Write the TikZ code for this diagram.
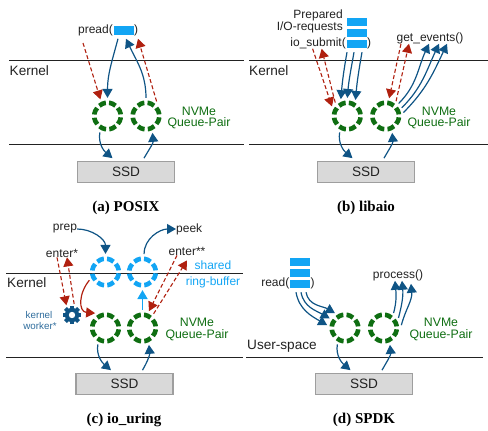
\documentclass[tikz,border=0pt]{standalone}
\usepackage{fontspec}
\setmainfont{Liberation Sans}
\newfontfamily\capfont{Liberation Serif}
\usetikzlibrary{arrows.meta}
\definecolor{qgreen}{HTML}{0F6E12}
\definecolor{qblue}{HTML}{0F5485}
\definecolor{qred}{HTML}{B0200F}
\definecolor{qsky}{HTML}{12A5F4}
\definecolor{qtext}{HTML}{222222}
\definecolor{qworker}{HTML}{2E6C9C}
\newcommand{\fs}[1]{\fontsize{#1}{#1}\selectfont}
\tikzset{
  x=1pt,y=-1pt,
  ringbase/.style={circle,draw,inner sep=0pt,minimum size=26.5,outer sep=4.8pt,line width=4.6pt,dash pattern=on 7.2pt off 3.2pt,dash phase=8.8pt},
  gring/.style={ringbase,draw=qgreen},
  bring/.style={ringbase,draw=qsky},
  bufbox/.style={rectangle,fill=qsky,draw=white,line width=.3pt,inner sep=0pt,minimum width=21,minimum height=9.5,outer ysep=4pt,outer xsep=0pt},
  ssdbox/.style={rectangle,draw=black!38,fill=black!15,line width=1.2pt,minimum width=97,minimum height=20.5,inner sep=0pt,font=\fs{13.6},text=qtext},
  lab/.style={inner sep=0pt,text=qtext,font=\fs{12}},
  sidelab/.style={inner sep=0pt,text=qtext,font=\fs{13.6}},
  qplab/.style={inner sep=0pt,text=qgreen,font=\fs{12.3}},
  skylab/.style={inner sep=0pt,text=qsky,font=\fs{12}},
  wlab/.style={inner sep=0pt,text=qworker,font=\fs{9.8}},
  caplab/.style={inner sep=0pt,text=black,font=\capfont\bfseries\fs{15}},
  sep/.style={draw=qtext,line width=1pt},
  blueline/.style={draw=qblue,line width=1.2pt,-{Triangle[length=9pt,width=10pt]}},
  redline/.style={draw=qred,line width=1.1pt,dash pattern=on 4pt off 2.4pt,-{Triangle[length=9pt,width=10pt,fill=qred]}},
  redsolid/.style={draw=qred,line width=1.2pt,-{Triangle[length=9pt,width=10pt,fill=qred]}},
  skyline/.style={draw=qsky,line width=1.6pt,-{Triangle[length=9pt,width=10pt,fill=qsky]}},
}
% prefix, ring x1, ring x2, ring y, ssd x, ssd y, nvme x, nvme y1, nvme y2
\newcommand{\queuepair}[9]{%
  \node[gring] (#1r1) at (#2,#4) {};
  \node[gring] (#1r2) at (#3,#4) {};
  \node[ssdbox] (#1ssd) at (#5,#6) {SSD};
  \node[qplab] (#1nv) at (#7,#8) {NVMe};
  \node[qplab] (#1qp) at (#7,#9) {Queue-Pair};
  \draw[blueline] (#1r1.-115) to[out=-100,in=140] ([xshift=-13.5pt,yshift=3pt]#1ssd.north);
  \draw[blueline] ([xshift=18pt,yshift=3pt]#1ssd.north) to[out=60,in=-85] (#1r2.-69);
}
\begin{document}
\begin{tikzpicture}
\useasboundingbox (0,0) rectangle (488,431);
% ---------- (a)
\coordinate (al1) at (9,60); \coordinate (al2) at (244,60);
\coordinate (al3) at (9,144); \coordinate (al4) at (244,144);
\draw[sep] (al1) -- (al2); \draw[sep] (al3) -- (al4);
\node[sidelab,anchor=west] (akern) at (9.5,71) {Kernel};
\queuepair{a}{107.5}{146}{116}{126}{172}{199}{111}{123}
\node[bufbox] (abuf) at (123.5,30) {};
\node[lab,anchor=east] (apread) at (113,30) {pread(};
\node[lab,anchor=west] (aclose) at (134,30) {)};
\node[caplab] (acap) at (126,208) {(a) POSIX};
\coordinate (ared) at (83,43);
\draw[redline] (ared) -- (ar1.113);
\draw[redline] (ar2.54) -- ([xshift=14.5pt]abuf.south);
\draw[blueline] ([xshift=-5.5pt]abuf.south) to[out=-105,in=90] (ar1.90);
\draw[blueline] (ar2.90) to[out=90,in=-65] ([xshift=2.5pt]abuf.south);
% ---------- (b)
\coordinate (bl1) at (249,60); \coordinate (bl2) at (488,60);
\coordinate (bl3) at (249,144); \coordinate (bl4) at (488,144);
\draw[sep] (bl1) -- (bl2); \draw[sep] (bl3) -- (bl4);
\node[sidelab,anchor=west] (bkern) at (249,71) {Kernel};
\queuepair{b}{347.3}{385.7}{116}{366}{172}{439}{111}{123}
\node[bufbox] (bb1) at (356.5,21.5) {};
\node[bufbox] (bb2) at (356.5,32.5) {};
\node[bufbox] (bb3) at (356.5,43.5) {};
\node[lab,anchor=east] (bprep) at (343,15) {Prepared};
\node[lab,anchor=east] (bio) at (343,27) {I/O-requests};
\node[lab,anchor=east] (bsub) at (346,43) {io\_submit(};
\node[lab,anchor=west] (bclose) at (367,43) {)};
\node[lab] (bget) at (430,38) {get\_events()};
\node[caplab] (bcap) at (366,208) {(b) libaio};
\draw[redline] ([xshift=-5.5pt]bsub.south) -- (br1.148);
\draw[redline] (br1.132) -- ([xshift=3.5pt]bsub.south);
\draw[blueline] ([xshift=-9.5pt]bb3.south) to[out=-100,in=85] (br1.111);
\draw[blueline] ([xshift=-2.5pt]bb3.south) to[out=-100,in=85] (br1.90);
\draw[blueline] ([xshift=5.5pt]bb3.south) to[out=-100,in=85] (br1.63);
\draw[redline] ([xshift=-29pt]bget.south) -- (br2.79);
\draw[redline] (br2.55) -- ([xshift=-21pt]bget.south);
\draw[blueline] (br2.44) to[out=45,in=-115] ([xshift=-1pt]bget.south);
\draw[blueline] (br2.27) to[out=45,in=-115] ([xshift=9pt]bget.south);
\draw[blueline] (br2.11) to[out=45,in=-115] ([xshift=17pt]bget.south);
% ---------- (c)
\coordinate (cl1) at (6,273); \coordinate (cl2) at (243,273);
\coordinate (cl3) at (6,357); \coordinate (cl4) at (243,357);
\draw[sep] (cl1) -- (cl2); \draw[sep] (cl3) -- (cl4);
\node[sidelab,anchor=west] (ckern) at (7,283) {Kernel};
\queuepair{c}{105.5}{142.5}{328}{124.5}{384}{197}{322.5}{335}
\node[bring] (cu1) at (105.5,272) {};
\node[bring] (cu2) at (142.5,272) {};
\node[lab] (cprep) at (65,229) {prep};
\node[lab,anchor=west] (cpeek) at (176,229) {peek};
\node[lab] (cent1) at (62,253) {enter*};
\node[lab] (cent2) at (187,251) {enter**};
\node[skylab] (cshared) at (213,265) {shared};
\node[skylab] (cringb) at (213,282) {ring-buffer};
\node[wlab] (cw1) at (39,315) {kernel};
\node[wlab] (cw2) at (40,326) {worker*};
\node[caplab] (ccap) at (124,420) {(c) io\_uring};
\node[circle,minimum size=22,inner sep=0pt] (cgear) at (72,315) {};
\begin{scope}[shift={(cgear.center)}]
  \foreach \a in {0,45,...,315}{
    \fill[qblue,rotate=\a] (-2,-9.3) rectangle (2,0);
  }
  \fill[qblue,even odd rule] (0,0) circle (7.2) (0,0) circle (3.2);
  \fill[white] (0,0) circle (3.2);
\end{scope}
\draw[blueline] (cprep.east) to[out=0,in=90] (cu1.90);
\draw[blueline] (cu2.85) to[out=90,in=180] (cpeek.west);
\draw[redline] ([xshift=-5pt]cent1.south) -- (cgear.120);
\draw[redline] (cgear.79) -- ([xshift=5pt]cent1.south);
\draw[redsolid] (cu1.-153) to[out=-130,in=175,looseness=1.3] (cr1.125);
\draw[skyline] (cr2.90) -- (cu2.-90);
\draw[redline] ([xshift=-10pt]cent2.south) -- (cr2.69);
\draw[redline] (cr2.52) -- ([yshift=-5pt]cent2.south);
% ---------- (d)
\coordinate (dl3) at (246,357); \coordinate (dl4) at (483,357);
\draw[sep] (dl3) -- (dl4);
\node[sidelab,anchor=west] (dkern) at (247,346) {User-space};
\queuepair{d}{345}{383.5}{328}{364}{384}{441}{322.5}{335}
\node[bufbox] (db1) at (300,261.5) {};
\node[bufbox] (db2) at (300,272.5) {};
\node[bufbox] (db3) at (300,283.5) {};
\node[lab,anchor=east] (dread) at (289.5,283) {read(};
\node[lab,anchor=west] (dclose) at (310.5,283) {)};
\node[lab] (dproc) at (398,275) {process()};
\node[caplab] (dcap) at (364,420) {(d) SPDK};
\draw[blueline] ([xshift=-4pt]db3.south) to[out=-80,in=150] (dr1.171);
\draw[blueline] ([xshift=1pt]db3.south) to[out=-80,in=150] (dr1.148);
\draw[blueline] ([xshift=6pt]db3.south) to[out=-80,in=150] (dr1.124);
\draw[blueline] (dr2.56) to[out=75,in=-85] ([xshift=-3pt]dproc.south);
\draw[blueline] (dr2.34) to[out=75,in=-85] ([xshift=4pt]dproc.south);
\draw[blueline] (dr2.9) to[out=75,in=-85] ([xshift=13pt,yshift=-3pt]dproc.south);
\end{tikzpicture}
\end{document}
